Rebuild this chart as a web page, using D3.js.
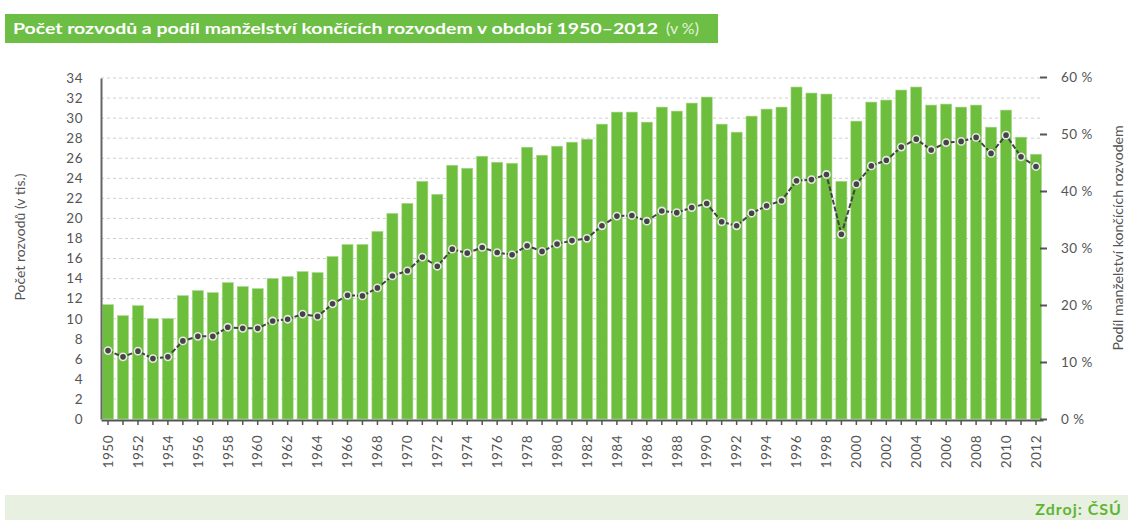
<!DOCTYPE html>
<html>
<head>
<meta charset="utf-8">
<script src="https://cdn.jsdelivr.net/npm/d3@7"></script>
<style>
  body { margin: 0; background: #fff; }
  text { font-family: Lato, "DejaVu Sans", sans-serif; }
</style>
</head>
<body>
<div id="chart"></div>
<script>
// years 1950-2012
var years = d3.range(1950, 2013);

// number of divorces (thousands)
var divorces = [11.4, 10.3, 11.3, 10.0, 10.0, 12.3, 12.8, 12.6, 13.6, 13.2,
  13.0, 14.0, 14.2, 14.7, 14.6, 16.2, 17.4, 17.4, 18.7, 20.5,
  21.5, 23.7, 22.4, 25.3, 25.0, 26.2, 25.6, 25.5, 27.1, 26.3,
  27.2, 27.6, 27.9, 29.4, 30.6, 30.6, 29.6, 31.1, 30.7, 31.5,
  32.1, 29.4, 28.6, 30.2, 30.9, 31.1, 33.1, 32.5, 32.4, 23.7,
  29.7, 31.6, 31.8, 32.8, 33.1, 31.3, 31.4, 31.1, 31.3, 29.1,
  30.8, 28.1, 26.4];

// share of marriages ending in divorce (%)
var share = [12.0, 10.9, 11.9, 10.6, 10.9, 13.7, 14.5, 14.5, 16.1, 15.9,
  15.9, 17.2, 17.5, 18.4, 18.0, 20.2, 21.7, 21.6, 23.0, 25.1,
  26.0, 28.4, 26.8, 29.8, 29.1, 30.1, 29.2, 28.8, 30.4, 29.4,
  30.7, 31.3, 31.7, 33.9, 35.6, 35.7, 34.7, 36.5, 36.2, 37.1,
  37.8, 34.6, 33.9, 36.1, 37.4, 38.3, 41.8, 42.0, 42.9, 32.4,
  41.2, 44.4, 45.4, 47.7, 49.1, 47.2, 48.5, 48.7, 49.4, 46.6,
  49.8, 46.0, 44.3];

var leftTicks = d3.range(0, 35, 2);
var rightTicks = [0, 10, 20, 30, 40, 50, 60];

var W = 1128, H = 520;
var x0 = 101, x1 = 1043, yTop = 78, yBot = 419;
var green = "#6dbe3c";

var svg = d3.select("#chart").append("svg")
  .attr("width", W).attr("height", H);

// title bar
svg.append("rect")
  .attr("x", 5).attr("y", 14).attr("width", 713).attr("height", 29)
  .attr("fill", "#6cbe45");
var title = svg.append("text")
  .attr("x", 13).attr("y", 34)
  .attr("fill", "#fff")
  .attr("font-size", 16);
title.append("tspan").attr("font-weight", "bold")
  .attr("textLength", 645).attr("lengthAdjust", "spacingAndGlyphs")
  .text("Počet rozvodů a podíl manželství končících rozvodem v období 1950–2012");
title.append("tspan").attr("font-weight", "normal").attr("fill", "#e4f3da")
  .attr("dx", 8)
  .text("(v %)");

// footer band
svg.append("rect")
  .attr("x", 5).attr("y", 495).attr("width", W - 5).attr("height", 25)
  .attr("fill", "#e8f1e1");
svg.append("text")
  .attr("x", 1122).attr("y", 515)
  .attr("text-anchor", "end")
  .attr("font-size", 16).attr("font-weight", "bold")
  .attr("letter-spacing", 1)
  .attr("fill", "#5fb531")
  .text("Zdroj: ČSÚ");

// scales
var xScale = d3.scaleBand().domain(years).range([x0, x1]).paddingInner(0.26).paddingOuter(0.1);
var yLeft = d3.scaleLinear().domain([0, 34]).range([yBot, yTop]);
var yRight = d3.scaleLinear().domain([0, 60]).range([yBot, yTop - 1]);

// grid
svg.append("g").selectAll("line")
  .data(leftTicks.filter(function(d) { return d > 0; }))
  .enter().append("line")
  .attr("x1", x0).attr("x2", x1)
  .attr("y1", function(d) { return yLeft(d); })
  .attr("y2", function(d) { return yLeft(d); })
  .attr("stroke", "#cfcfcf")
  .attr("stroke-width", 1)
  .attr("stroke-dasharray", "3,3");

// bars
svg.append("g").selectAll("rect")
  .data(divorces)
  .enter().append("rect")
  .attr("x", function(d, i) { return xScale(years[i]); })
  .attr("y", function(d) { return yLeft(d); })
  .attr("width", xScale.bandwidth())
  .attr("height", function(d) { return yBot - yLeft(d); })
  .attr("fill", green)
  .attr("stroke", "#a9d98c")
  .attr("stroke-width", 0.6);

// left axis
var leftAxis = svg.append("g")
  .attr("transform", "translate(" + x0 + ",0)")
  .call(d3.axisLeft(yLeft).tickValues(leftTicks).tickSize(0).tickPadding(18));
leftAxis.select(".domain").attr("stroke", "#666").attr("stroke-width", 2);
leftAxis.selectAll("text").attr("fill", "#555").attr("font-size", 13.5)
  .attr("letter-spacing", 0.5);

// bottom axis
var bottomAxis = svg.append("g")
  .attr("transform", "translate(0," + (yBot + 1) + ")")
  .call(d3.axisBottom(xScale).tickSize(5).tickSizeOuter(0)
    .tickFormat(function(d) { return d % 2 === 0 ? d : ""; }));
bottomAxis.select(".domain").attr("stroke", "#555").attr("stroke-width", 2);
bottomAxis.selectAll(".tick line").attr("stroke", "#555").attr("stroke-width", 1.5);
bottomAxis.selectAll("text")
  .attr("fill", "#555").attr("font-size", 13.5)
  .attr("letter-spacing", 0.5)
  .attr("transform", "rotate(-90)")
  .attr("text-anchor", "end")
  .attr("dy", "0.35em")
  .attr("x", -15).attr("y", 0);

// right axis
var rightAxis = svg.append("g")
  .attr("transform", "translate(" + (x1 - 3) + ",0)")
  .call(d3.axisRight(yRight).tickValues(rightTicks).tickSize(7).tickPadding(14)
    .tickFormat(function(d) { return d + " %"; }));
rightAxis.select(".domain").remove();
rightAxis.selectAll(".tick line").attr("stroke", "#555").attr("stroke-width", 2);
rightAxis.selectAll("text").attr("fill", "#555").attr("font-size", 13.5)
  .attr("letter-spacing", 0.5);

// axis titles
svg.append("text")
  .attr("transform", "translate(25,237) rotate(-90)")
  .attr("text-anchor", "middle")
  .attr("font-size", 12.5).attr("fill", "#555")
  .attr("textLength", 127).attr("lengthAdjust", "spacingAndGlyphs")
  .text("Počet rozvodů (v tis.)");
svg.append("text")
  .attr("transform", "translate(1123,238) rotate(-90)")
  .attr("text-anchor", "middle")
  .attr("font-size", 12.5).attr("fill", "#555")
  .attr("textLength", 225).attr("lengthAdjust", "spacingAndGlyphs")
  .text("Podíl manželství končících rozvodem");

// line
var cx = function(i) { return xScale(years[i]) + xScale.bandwidth() / 2; };
var line = d3.line()
  .x(function(d, i) { return cx(i); })
  .y(function(d) { return yRight(d); });
svg.append("path")
  .datum(share)
  .attr("d", line)
  .attr("fill", "none")
  .attr("stroke", "#444")
  .attr("stroke-width", 2)
  .attr("stroke-dasharray", "5,2");

svg.append("g").selectAll("circle")
  .data(share)
  .enter().append("circle")
  .attr("cx", function(d, i) { return cx(i); })
  .attr("cy", function(d) { return yRight(d); })
  .attr("r", 3.6)
  .attr("fill", "#444")
  .attr("stroke", "#e8e8e8")
  .attr("stroke-width", 1.6);
</script>
</body>
</html>
